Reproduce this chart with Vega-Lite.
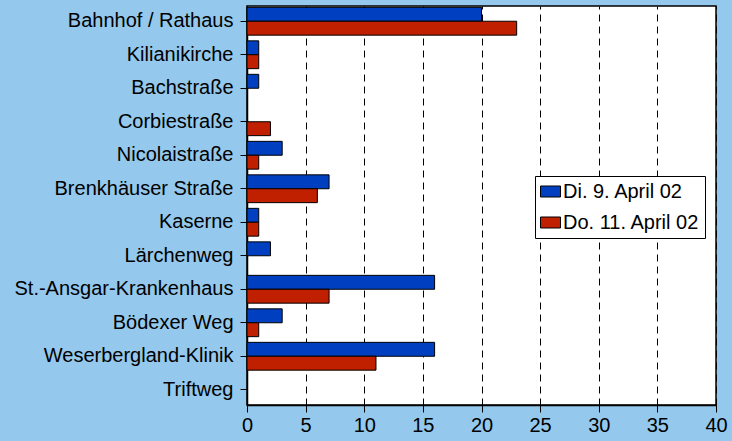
{
  "$schema": "https://vega.github.io/schema/vega-lite/v6.json",
  "width": 469,
  "height": 399,
  "autosize": {"type": "none"},
  "padding": {"left": 247, "top": 6, "right": 16, "bottom": 36},
  "background": "#94C8EC",
  "config": {
    "view": {"fill": "white", "stroke": "black", "strokeWidth": 1.5},
    "font": "Liberation Sans"
  },
  "data": {
    "values": [
      {"stop": "Bahnhof / Rathaus", "tag": "Di. 9. April 02", "n": 20},
      {"stop": "Bahnhof / Rathaus", "tag": "Do. 11. April 02", "n": 23},
      {"stop": "Kilianikirche", "tag": "Di. 9. April 02", "n": 1},
      {"stop": "Kilianikirche", "tag": "Do. 11. April 02", "n": 1},
      {"stop": "Bachstraße", "tag": "Di. 9. April 02", "n": 1},
      {"stop": "Bachstraße", "tag": "Do. 11. April 02", "n": 0},
      {"stop": "Corbiestraße", "tag": "Di. 9. April 02", "n": 0},
      {"stop": "Corbiestraße", "tag": "Do. 11. April 02", "n": 2},
      {"stop": "Nicolaistraße", "tag": "Di. 9. April 02", "n": 3},
      {"stop": "Nicolaistraße", "tag": "Do. 11. April 02", "n": 1},
      {"stop": "Brenkhäuser Straße", "tag": "Di. 9. April 02", "n": 7},
      {"stop": "Brenkhäuser Straße", "tag": "Do. 11. April 02", "n": 6},
      {"stop": "Kaserne", "tag": "Di. 9. April 02", "n": 1},
      {"stop": "Kaserne", "tag": "Do. 11. April 02", "n": 1},
      {"stop": "Lärchenweg", "tag": "Di. 9. April 02", "n": 2},
      {"stop": "Lärchenweg", "tag": "Do. 11. April 02", "n": 0},
      {"stop": "St.-Ansgar-Krankenhaus", "tag": "Di. 9. April 02", "n": 16},
      {"stop": "St.-Ansgar-Krankenhaus", "tag": "Do. 11. April 02", "n": 7},
      {"stop": "Bödexer Weg", "tag": "Di. 9. April 02", "n": 3},
      {"stop": "Bödexer Weg", "tag": "Do. 11. April 02", "n": 1},
      {"stop": "Weserbergland-Klinik", "tag": "Di. 9. April 02", "n": 16},
      {"stop": "Weserbergland-Klinik", "tag": "Do. 11. April 02", "n": 11},
      {"stop": "Triftweg", "tag": "Di. 9. April 02", "n": 0},
      {"stop": "Triftweg", "tag": "Do. 11. April 02", "n": 0}
    ]
  },
  "transform": [{"filter": "datum.n > 0"}],
  "mark": {"type": "bar", "stroke": "black", "strokeWidth": 1},
  "encoding": {
    "y": {
      "field": "stop",
      "type": "nominal",
      "sort": null,
      "scale": {
        "domain": ["Bahnhof / Rathaus", "Kilianikirche", "Bachstraße", "Corbiestraße", "Nicolaistraße", "Brenkhäuser Straße", "Kaserne", "Lärchenweg", "St.-Ansgar-Krankenhaus", "Bödexer Weg", "Weserbergland-Klinik", "Triftweg"],
        "paddingInner": 0.17,
        "paddingOuter": 0.04
      },
      "axis": {
        "title": null,
        "labelFontSize": 20,
        "labelColor": "black",
        "labelPadding": 7,
        "labelLimit": 400,
        "tickColor": "black",
        "tickSize": 7,
        "domainColor": "black",
        "domainWidth": 1.5
      }
    },
    "yOffset": {"field": "tag", "type": "nominal", "scale": {"domain": ["Di. 9. April 02", "Do. 11. April 02"]}},
    "x": {
      "field": "n",
      "type": "quantitative",
      "scale": {"domain": [0, 40], "nice": false},
      "axis": {
        "title": null,
        "values": [0, 5, 10, 15, 20, 25, 30, 35, 40],
        "labelFontSize": 20,
        "labelColor": "black",
        "labelPadding": 3,
        "labelFlush": false,
        "tickColor": "black",
        "tickSize": 7,
        "domainColor": "black",
        "domainWidth": 1.5,
        "grid": true,
        "gridColor": "black",
        "gridDash": [7, 5],
        "gridWidth": 1
      }
    },
    "color": {
      "field": "tag",
      "type": "nominal",
      "scale": {"domain": ["Di. 9. April 02", "Do. 11. April 02"], "range": ["#0040C0", "#C02000"]},
      "legend": {
        "title": null,
        "orient": "none",
        "legendX": 288,
        "legendY": 170,
        "direction": "vertical",
        "symbolType": "M-1,-0.55H1V0.55H-1Z",
        "symbolSize": 400,
        "symbolStrokeColor": "black",
        "symbolStrokeWidth": 1,
        "labelFontSize": 20,
        "labelColor": "black",
        "labelOffset": 2,
        "rowPadding": 10,
        "fillColor": "white",
        "strokeColor": "black",
        "padding": 5
      }
    }
  }
}
